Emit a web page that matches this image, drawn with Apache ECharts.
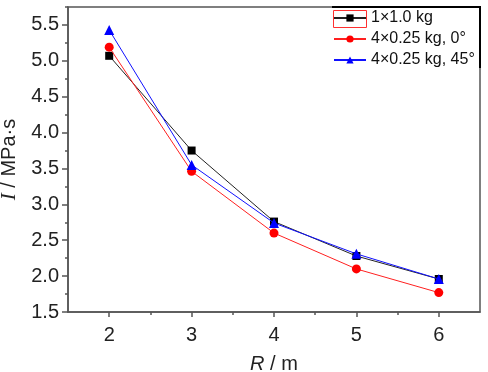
<!DOCTYPE html>
<html><head><meta charset="utf-8">
<script src="https://cdn.jsdelivr.net/npm/echarts@6/dist/echarts.min.js"></script>
<style>html,body{margin:0;padding:0;background:#fff}#c{width:488px;height:372px}</style>
</head><body><div id="c"></div>
<script>
var R = [2, 3, 4, 5, 6];
var seriesNames = ['1\u00d71.0 kg', '4\u00d70.25 kg, 0\u00b0', '4\u00d70.25 kg, 45\u00b0'];
var s1 = [5.07, 3.75, 2.76, 2.28, 1.96];
var s2 = [5.19, 3.46, 2.60, 2.10, 1.77];
var s3 = [5.43, 3.55, 2.74, 2.31, 1.96];
var xMajor = [2, 3, 4, 5, 6];
var xMinor = [2.5, 3.5, 4.5, 5.5];
var yMajor = [1.5, 2.0, 2.5, 3.0, 3.5, 4.0, 4.5, 5.0, 5.5];
var yMinor = [1.75, 2.25, 2.75, 3.25, 3.75, 4.25, 4.75, 5.25, 5.75];

function pairs(xs, ys) { return xs.map(function (x, i) { return [x, ys[i]]; }); }

var font = 'Liberation Sans, Arial, sans-serif';
var axisCol = '#555';
var chart = echarts.init(document.getElementById('c'), null, {renderer: 'canvas'});
var xBase = {type: 'value', min: 1.5, max: 6.5, interval: 0.5, splitLine: {show: false}};
var yBase = {type: 'value', min: 1.5, max: 5.75, interval: 0.25, splitLine: {show: false}};
chart.setOption({
  animation: false,
  grid: {left: 68, right: 8, top: 7, bottom: 60, show: true, borderColor: axisCol, borderWidth: 1.5,
    containLabel: false, outerBoundsMode: 'none'},
  legend: {
    orient: 'vertical', left: 333, top: 8, itemWidth: 32, itemHeight: 9, itemGap: 1, padding: 0,
    textStyle: {fontFamily: font, fontSize: 16, lineHeight: 20, color: '#111'},
    data: seriesNames
  },
  xAxis: [
    Object.assign({}, xBase, {
      position: 'bottom',
      axisLine: {show: true, onZero: false, lineStyle: {color: axisCol, width: 1.5}},
      axisTick: {show: true, inside: false, length: 5, customValues: xMajor, lineStyle: {color: axisCol, width: 1.5}},
      axisLabel: {customValues: xMajor, margin: 13, fontFamily: font, fontSize: 20, color: '#222'},
      name: '{i|R} / m', nameLocation: 'middle', nameGap: 42,
      nameTextStyle: {fontFamily: font, fontSize: 20, color: '#222',
        rich: {i: {fontFamily: font, fontStyle: 'italic', fontSize: 20, color: '#222'}}}
    }),
    Object.assign({}, xBase, {
      position: 'bottom',
      axisLine: {show: false, onZero: false},
      axisTick: {show: true, inside: false, length: 3, customValues: xMinor, lineStyle: {color: axisCol, width: 1.5}},
      axisLabel: {show: false}
    })
  ],
  yAxis: [
    Object.assign({}, yBase, {
      position: 'left',
      axisLine: {show: true, onZero: false, lineStyle: {color: axisCol, width: 1.5}},
      axisTick: {show: true, inside: false, length: 6, customValues: yMajor, lineStyle: {color: axisCol, width: 1.5}},
      axisLabel: {customValues: yMajor, margin: 9, fontFamily: font, fontSize: 20, color: '#222',
        formatter: function (v) { return v.toFixed(1); }},
      name: '{i|I} / MPa\u00b7s', nameLocation: 'middle', nameGap: 45, nameRotate: 90,
      nameTextStyle: {fontFamily: font, fontSize: 20, color: '#222',
        rich: {i: {fontFamily: 'Liberation Serif, serif', fontStyle: 'italic', fontSize: 21, color: '#222'}}}
    }),
    Object.assign({}, yBase, {
      position: 'left',
      axisLine: {show: false, onZero: false},
      axisTick: {show: true, inside: false, length: 3, customValues: yMinor, lineStyle: {color: axisCol, width: 1.5}},
      axisLabel: {show: false}
    })
  ],
  series: [
    {name: seriesNames[0], type: 'line', data: pairs(R, s1), symbol: 'rect', symbolSize: 8,
      itemStyle: {color: '#000'}, lineStyle: {color: '#222', width: 1}, z: 2},
    {name: seriesNames[1], type: 'line', data: pairs(R, s2), symbol: 'circle', symbolSize: 9,
      itemStyle: {color: '#ff0000'}, lineStyle: {color: '#ff2020', width: 1}, z: 3},
    {name: seriesNames[2], type: 'line', data: pairs(R, s3), symbol: 'triangle', symbolSize: 10,
      itemStyle: {color: '#0000ff'}, lineStyle: {color: '#1010ff', width: 1}, z: 4}
  ],
  graphic: [
    {type: 'polyline', shape: {points: [[332, 7], [480, 7], [480, 68]]}, style: {stroke: '#000', lineWidth: 2, fill: null}, z: 100},
    {type: 'rect', shape: {x: 333.5, y: 10.5, width: 33, height: 17}, style: {stroke: '#ff3030', lineWidth: 1, fill: null}, z: 100}
  ]
});
</script></body></html>
